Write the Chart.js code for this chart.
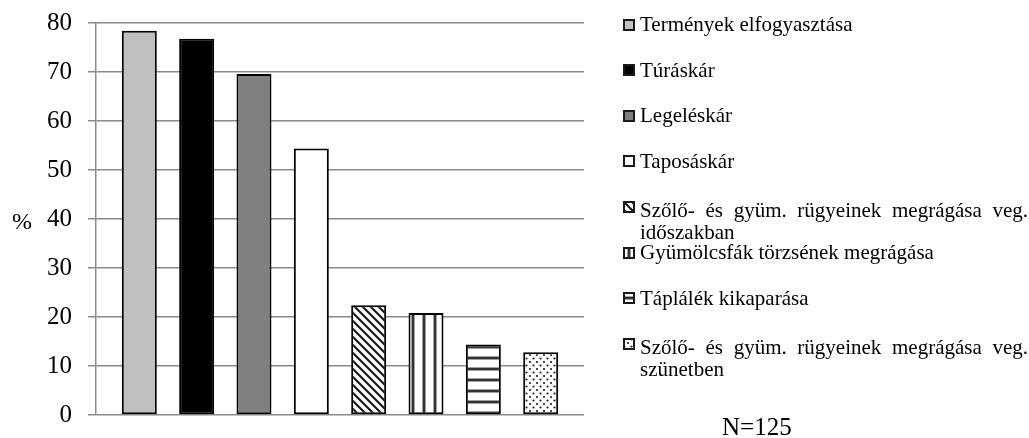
<!DOCTYPE html>
<html><head><meta charset="utf-8">
<script src="https://cdn.jsdelivr.net/npm/chart.js@4.4.1/dist/chart.umd.min.js"></script>
<style>
html,body{margin:0;padding:0;background:#fff;}
#wrap{position:relative;width:1029px;height:438px;overflow:hidden;font-family:"Liberation Serif","Times New Roman",serif;color:#000;}
#c{position:absolute;left:0;top:0;}
.lg{position:absolute;left:623px;width:406px;}
.sw{position:absolute;left:0;width:12px;height:12px;}
.tx{position:absolute;left:17px;top:0;width:388px;font-size:21px;line-height:22px;text-align:justify;white-space:normal;}
#pct{position:absolute;left:12px;top:209px;font-size:24px;line-height:24px;}
#n{position:absolute;left:722px;top:414px;font-size:25px;line-height:25px;}
</style></head><body>
<div id="wrap"><canvas id="c" width="1029" height="438"></canvas><div id="pct">%</div><div id="n">N=125</div></div>
<script>
// ---- data ----
const categories = [''];
const seriesNames = [
  'Termények elfogyasztása',
  'Túráskár',
  'Legeléskár',
  'Taposáskár',
  'Szőlő- és gyüm. rügyeinek megrágása veg. időszakban',
  'Gyümölcsfák törzsének megrágása',
  'Táplálék kikaparása',
  'Szőlő- és gyüm. rügyeinek megrágása veg. szünetben'
];
const seriesValues = [78.4, 76.8, 69.6, 54.4, 22.4, 20.8, 14.4, 12.8];
const yTickLabels = ['0','10','20','30','40','50','60','70','80'];

// ---- styles ----
const fills = ['#c0c0c0', '#000000', '#808080', '#ffffff', 'diag', 'vert', 'horiz', 'dots'];

function makeFill(ctx, kind) {
  if (kind[0] === '#') return kind;
  const t = document.createElement('canvas');
  let w = 8, h = 8;
  if (kind === 'vert') { w = 11; h = 4; }
  if (kind === 'horiz') { w = 4; h = 11; }
  if (kind === 'dots') { w = 7; h = 7; }
  t.width = w; t.height = h;
  const g = t.getContext('2d');
  g.fillStyle = '#fff'; g.fillRect(0, 0, w, h);
  if (kind === 'diag') {
    g.strokeStyle = '#1a1a1a'; g.lineWidth = 2.2;
    g.beginPath();
    g.moveTo(-1, -1); g.lineTo(9, 9);
    g.moveTo(-1, 7); g.lineTo(1, 9);
    g.moveTo(7, -1); g.lineTo(9, 1);
    g.stroke();
  } else if (kind === 'vert') {
    g.fillStyle = '#a0a0a0'; g.fillRect(4, 0, 4, h);
    g.fillStyle = '#333'; g.fillRect(5, 0, 2, h);
  } else if (kind === 'horiz') {
    g.fillStyle = '#a0a0a0'; g.fillRect(0, 4, w, 4);
    g.fillStyle = '#333'; g.fillRect(0, 5, w, 2);
  } else if (kind === 'dots') {
    g.fillStyle = '#222';
    g.beginPath(); g.arc(1.5, 1.5, 1.1, 0, Math.PI * 2); g.fill();
    g.beginPath(); g.arc(5, 5, 1.1, 0, Math.PI * 2); g.fill();
  }
  return ctx.createPattern(t, 'repeat');
}

const canvas = document.getElementById('c');
const ctx = canvas.getContext('2d');

const datasets = seriesNames.map((name, i) => ({
  label: name,
  data: [seriesValues[i]],
  backgroundColor: makeFill(ctx, fills[i]),
  borderColor: '#000',
  borderWidth: 2,
  borderSkipped: false,
  categoryPercentage: 0.94,
  barPercentage: 0.61
}));

const chart = new Chart(ctx, {
  type: 'bar',
  data: { labels: categories, datasets },
  options: {
    responsive: false,
    animation: false,
    devicePixelRatio: 1,
    layout: { padding: { left: 0, right: 445, top: 23, bottom: 23 } },
    plugins: { legend: { display: false }, tooltip: { enabled: false } },
    scales: {
      x: { display: false },
      y: {
        min: 0, max: 80,
        afterFit: (s) => { s.width = 96; s.paddingTop = 0; s.paddingBottom = 0; },
        afterBuildTicks: (s) => { s.ticks = yTickLabels.map(v => ({ value: Number(v) })); },
        ticks: {
          stepSize: 10,
          padding: 16,
          color: '#000',
          font: { family: '"Liberation Serif", "Times New Roman", serif', size: 25 },
          callback: (v) => String(v)
        },
        grid: { color: '#8a8a8a', lineWidth: 1.5, tickLength: 8, drawTicks: true },
        border: { display: true, color: '#8a8a8a', width: 1.5 }
      }
    }
  }
});

// ---- HTML legend ----
const wrap = document.getElementById('wrap');
chart.data.datasets.forEach((ds, i) => {
  const item = document.createElement('div');
  item.className = 'lg';
  const sw = document.createElement('canvas');
  sw.className = 'sw'; sw.width = 12; sw.height = 12;
  const sctx = sw.getContext('2d');
  sctx.fillStyle = makeFill(sctx, fills[i]);
  sctx.fillRect(0, 0, 12, 12);
  sctx.strokeStyle = '#1a1a1a'; sctx.lineWidth = 2;
  sctx.strokeRect(1, 1, 10, 10);
  const tx = document.createElement('div');
  tx.className = 'tx';
  tx.textContent = ds.label;
  item.appendChild(sw); item.appendChild(tx);
  wrap.appendChild(item);
  const c = 24.5 + 45.6 * i;
  const multi = tx.offsetHeight > 30;
  const top = c - (multi ? 7.5 : 11.5);
  item.style.top = top + 'px';
  sw.style.top = (c - 6 - top) + 'px';
});
</script>
</body></html>
